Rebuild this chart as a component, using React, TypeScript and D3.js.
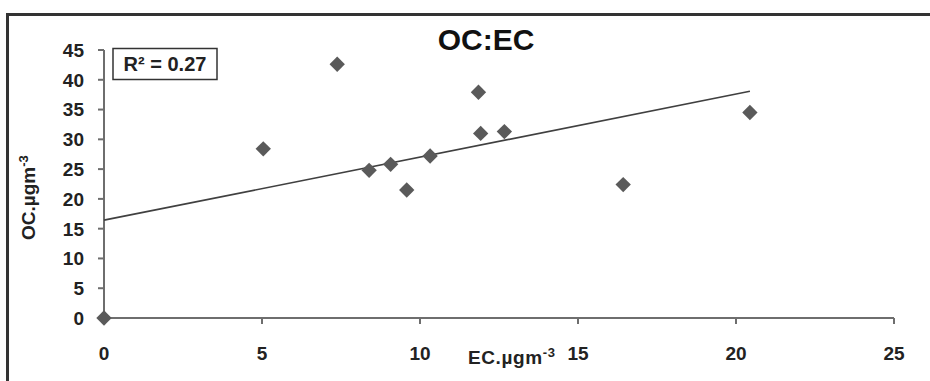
import React from "react";
import * as d3 from "d3";

const ecValues = [0, 5.04, 7.38, 8.39, 9.07, 9.58, 10.32, 11.85, 11.92, 12.67, 16.43, 20.44];
const ocValues = [0, 28.4, 42.6, 24.8, 25.8, 21.5, 27.2, 37.9, 31.0, 31.3, 22.4, 34.5];
const xTicks = [0, 5, 10, 15, 20, 25];
const yTicks = [0, 5, 10, 15, 20, 25, 30, 35, 40, 45];
const chartTitle = "OC:EC";
const r2Label = "R² = 0.27";

const W = 930;
const H = 381;
const FONT = "'Liberation Sans', Arial, sans-serif";

export default function App() {
  const x = d3.scaleLinear().domain([0, 25]).range([104, 894]);
  const y = d3.scaleLinear().domain([0, 45]).range([318, 50]);

  const mx = d3.mean(ecValues) as number;
  const my = d3.mean(ocValues) as number;
  let sxy = 0, sxx = 0;
  ecValues.forEach((v, i) => {
    sxy += (v - mx) * (ocValues[i] - my);
    sxx += (v - mx) * (v - mx);
  });
  const slope = sxy / sxx;
  const intercept = my - slope * mx;
  const x0 = d3.min(ecValues) as number;
  const x1 = d3.max(ecValues) as number;
  const trend = d3.line<number>().x((d) => x(d)).y((d) => y(intercept + slope * d))([x0, x1]) as string;

  const diamond = d3.symbol().type(d3.symbolDiamond2).size(150)() as string;

  return (
    <svg width={W} height={H} style={{ position: "absolute", left: 0, top: 0, display: "block", background: "#fff" }}>
      <rect x={0} y={0} width={W} height={H} fill="#fff" />
      {/* outer frame */}
      <path d={`M7.5,${H + 5} L7.5,14.5 L${W + 5},14.5`} fill="none" stroke="#333" strokeWidth={3} />

      {/* title */}
      <text x={486} y={50} textAnchor="middle" fontFamily={FONT} fontWeight="bold" fontSize={30} fill="#111">
        {chartTitle}
      </text>

      {/* axes */}
      <line x1={x(0)} x2={x(25)} y1={y(0)} y2={y(0)} stroke="#6e6e6e" strokeWidth={2} />
      <line x1={x(0)} x2={x(0)} y1={y(0)} y2={y(45)} stroke="#6e6e6e" strokeWidth={2} />
      {xTicks.map((t) => (
        <g key={"xt" + t}>
          <line x1={x(t)} x2={x(t)} y1={y(0)} y2={y(0) + 6} stroke="#6e6e6e" strokeWidth={2} />
          <text x={x(t)} y={360} textAnchor="middle" fontFamily={FONT} fontWeight="bold" fontSize={19} fill="#222">
            {t}
          </text>
        </g>
      ))}
      {yTicks.map((t) => (
        <g key={"yt" + t}>
          <line x1={x(0) - 6} x2={x(0)} y1={y(t)} y2={y(t)} stroke="#6e6e6e" strokeWidth={2} />
          <text x={84} y={y(t)} dy="0.36em" textAnchor="end" fontFamily={FONT} fontWeight="bold" fontSize={19} fill="#222">
            {t}
          </text>
        </g>
      ))}

      {/* axis titles */}
      <text x={468} y={364} fontFamily={FONT} fontWeight="bold" fontSize={19} letterSpacing={0.6} fill="#222">
        EC.µgm<tspan dy={-7} fontSize={13}>-3</tspan>
      </text>
      <text transform="translate(35,240) rotate(-90)" fontFamily={FONT} fontWeight="bold" fontSize={19} fill="#222">
        OC.µgm<tspan dy={-7} fontSize={13}>-3</tspan>
      </text>

      {/* trend line */}
      <path d={trend} fill="none" stroke="#404040" strokeWidth={1.6} />

      {/* points */}
      {ecValues.map((v, i) => (
        <path key={"p" + i} d={diamond} transform={`translate(${x(v)},${y(ocValues[i])})`} fill="#5a5a5a" />
      ))}

      {/* R² box */}
      <rect x={113} y={48.5} width={104} height={31} fill="#fff" stroke="#333" strokeWidth={1.5} />
      <text x={165} y={71} textAnchor="middle" fontFamily={FONT} fontWeight="bold" fontSize={20} fill="#222">
        {r2Label}
      </text>
    </svg>
  );
}
